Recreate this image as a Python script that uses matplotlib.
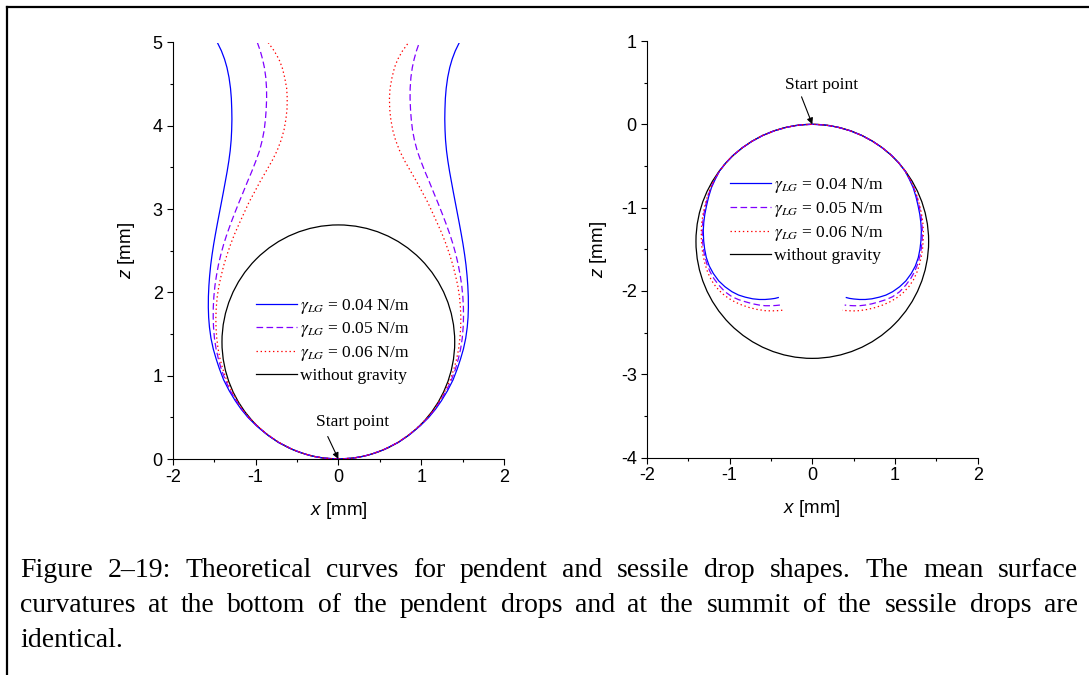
import numpy as np
import matplotlib
matplotlib.use('Agg')
import matplotlib.pyplot as plt
from matplotlib.patches import Circle
from matplotlib.lines import Line2D
from matplotlib.ticker import MultipleLocator

# ---------------- data ----------------
series_labels = ['0.04', '0.05', '0.06']

# pendent drops: half profile (right branch), x [mm] at each height z [mm]
pend_z = [0.00, 0.01, 0.03, 0.06, 0.11, 0.20, 0.30, 0.40, 0.50, 0.60, 0.70, 0.82, 0.95, 1.08,
          1.20, 1.32, 1.45, 1.58, 1.70, 1.82, 1.95, 2.08, 2.20, 2.33, 2.45, 2.58, 2.70, 2.83,
          2.95, 3.08, 3.20, 3.33, 3.45, 3.58, 3.70, 3.83, 3.95, 4.08, 4.20, 4.33, 4.45, 4.58,
          4.70, 4.80, 4.90, 5.00]
pend_x_004 = [0.000, 0.168, 0.290, 0.405, 0.545, 0.725, 0.870, 0.990, 1.092, 1.175, 1.245, 1.318,
              1.385, 1.435, 1.475, 1.510, 1.538, 1.556, 1.566, 1.570, 1.569, 1.563, 1.554, 1.541,
              1.525, 1.505, 1.484, 1.460, 1.437, 1.412, 1.389, 1.365, 1.343, 1.322, 1.306, 1.294,
              1.288, 1.285, 1.287, 1.292, 1.302, 1.320, 1.345, 1.374, 1.412, 1.461]
pend_x_005 = [0.000, 0.168, 0.290, 0.404, 0.543, 0.722, 0.866, 0.985, 1.086, 1.167, 1.232, 1.305,
              1.366, 1.414, 1.448, 1.476, 1.496, 1.507, 1.511, 1.510, 1.503, 1.490, 1.472, 1.448,
              1.420, 1.384, 1.345, 1.298, 1.252, 1.200, 1.150, 1.097, 1.046, 0.995, 0.952, 0.918,
              0.895, 0.880, 0.871, 0.866, 0.867, 0.876, 0.893, 0.915, 0.943, 0.978]
pend_x_006 = [0.000, 0.168, 0.290, 0.403, 0.542, 0.720, 0.864, 0.981, 1.080, 1.160, 1.222, 1.290,
              1.350, 1.395, 1.428, 1.452, 1.468, 1.477, 1.479, 1.474, 1.462, 1.442, 1.415, 1.382,
              1.345, 1.300, 1.253, 1.195, 1.140, 1.080, 1.015, 0.945, 0.875, 0.800, 0.740, 0.690,
              0.656, 0.633, 0.620, 0.617, 0.624, 0.648, 0.678, 0.718, 0.775, 0.848]

# sessile drops: half profile (right branch) from the summit
sess_x_004 = [0, 0.15, 0.30, 0.45, 0.60, 0.73, 0.85, 0.96, 1.05, 1.12, 1.172, 1.218, 1.252, 1.278,
              1.298, 1.311, 1.317, 1.312, 1.300, 1.280, 1.245, 1.196, 1.130, 1.055, 0.970, 0.890,
              0.810, 0.720, 0.640, 0.570, 0.500, 0.450, 0.411]
sess_z_004 = [0, -0.008, -0.033, -0.075, -0.135, -0.205, -0.285, -0.375, -0.47, -0.56, -0.66, -0.76,
              -0.87, -0.98, -1.08, -1.18, -1.28, -1.40, -1.50, -1.60, -1.70, -1.79, -1.88, -1.95,
              -2.01, -2.05, -2.075, -2.095, -2.103, -2.103, -2.097, -2.09, -2.08]
sess_x_005 = [0, 0.15, 0.30, 0.45, 0.60, 0.73, 0.85, 0.96, 1.05, 1.12, 1.178, 1.225, 1.262, 1.290,
              1.310, 1.323, 1.329, 1.327, 1.318, 1.300, 1.272, 1.235, 1.190, 1.130, 1.055, 0.970,
              0.890, 0.810, 0.720, 0.640, 0.570, 0.500, 0.440, 0.391]
sess_z_005 = [0, -0.008, -0.033, -0.075, -0.135, -0.205, -0.285, -0.375, -0.47, -0.56, -0.66, -0.76,
              -0.87, -0.98, -1.08, -1.18, -1.28, -1.38, -1.48, -1.58, -1.68, -1.77, -1.85, -1.93,
              -2.01, -2.07, -2.105, -2.13, -2.155, -2.17, -2.178, -2.178, -2.175, -2.17]
sess_x_006 = [0, 0.15, 0.30, 0.45, 0.60, 0.73, 0.85, 0.96, 1.05, 1.12, 1.180, 1.228, 1.268, 1.298,
              1.320, 1.335, 1.341, 1.340, 1.333, 1.318, 1.295, 1.262, 1.220, 1.165, 1.090, 1.010,
              0.930, 0.850, 0.760, 0.670, 0.570, 0.500, 0.430, 0.362]
sess_z_006 = [0, -0.008, -0.033, -0.075, -0.135, -0.205, -0.285, -0.375, -0.47, -0.56, -0.66, -0.76,
              -0.87, -0.98, -1.08, -1.18, -1.28, -1.38, -1.48, -1.58, -1.68, -1.78, -1.87, -1.95,
              -2.03, -2.09, -2.135, -2.17, -2.20, -2.222, -2.237, -2.24, -2.238, -2.232]

# drops without gravity: spheres
circle_radius = 1.405
pend_circle_center_z = 1.405
sess_circle_center_z = -1.405

caption_lines = [
    "Figure 2\u201319: Theoretical curves for pendent and sessile drop shapes. The mean surface",
    "curvatures at the bottom of the pendent drops and at the summit of the sessile drops are",
    "identical.",
]

# ---------------- style ----------------
plt.rcParams['font.family'] = ['Liberation Sans', 'DejaVu Sans']
plt.rcParams['mathtext.fontset'] = 'custom'
plt.rcParams['mathtext.it'] = 'Liberation Sans:italic'
plt.rcParams['mathtext.rm'] = 'Liberation Sans'
plt.rcParams['axes.unicode_minus'] = False

colors = ['#0000ff', '#8000ff', '#ff0000']
lstyles = ['-', (0, (5.3, 2.7)), (0, (1.1, 2.2))]
LW = 0.9
SERIF = 'Liberation Serif'
FS_TICK = 13
FS_LAB = 13.5
FS_LEG = 12.5

W, H = 1089, 675
fig = plt.figure(figsize=(W / 100, H / 100), dpi=100)


def fx(px):
    return px / W


def fy(py):
    return 1 - py / H


axL = fig.add_axes([fx(172.7), fy(459), fx(504) - fx(172.7), fy(42.5) - fy(459)])
axR = fig.add_axes([fx(646.7), fy(457.5), fx(977.9) - fx(646.7), fy(41) - fy(457.5)])


def mirror(x, z):
    x = np.asarray(x, float)
    z = np.asarray(z, float)
    return np.concatenate([-x[::-1], x[1:]]), np.concatenate([z[::-1], z[1:]])


# pendent
for xs, c, ls in zip([pend_x_004, pend_x_005, pend_x_006], colors, lstyles):
    X, Z = mirror(xs, pend_z)
    axL.plot(X, Z, color=c, ls=ls, lw=LW)
axL.add_patch(Circle((0, pend_circle_center_z), circle_radius, fill=False, ec='k', lw=LW))

# sessile
for xs, zs, c, ls in zip([sess_x_004, sess_x_005, sess_x_006],
                         [sess_z_004, sess_z_005, sess_z_006], colors, lstyles):
    X, Z = mirror(xs, zs)
    axR.plot(X, Z, color=c, ls=ls, lw=LW)
axR.add_patch(Circle((0, sess_circle_center_z), circle_radius, fill=False, ec='k', lw=LW))

for ax, ylim, yt in [(axL, (0, 5), range(0, 6)), (axR, (-4, 1), range(-4, 2))]:
    ax.set_xlim(-2, 2)
    ax.set_ylim(*ylim)
    ax.set_xticks(range(-2, 3))
    ax.set_yticks(list(yt))
    ax.xaxis.set_minor_locator(MultipleLocator(0.5))
    ax.yaxis.set_minor_locator(MultipleLocator(0.5))
    for s in ['top', 'right']:
        ax.spines[s].set_visible(False)
    for s in ['left', 'bottom']:
        ax.spines[s].set_linewidth(0.8)
    ax.tick_params(which='major', direction='out', length=4, width=0.8, pad=3.2, labelsize=FS_TICK)
    ax.tick_params(which='minor', direction='out', length=2.4, width=0.8)
    ax.set_xlabel(r'$x$ [mm]', fontsize=FS_LAB)
    ax.set_ylabel(r'$z$ [mm]', fontsize=FS_LAB)
    ax.xaxis.set_label_coords(0.5, -0.098)
    ax.patch.set_alpha(0)

axL.yaxis.set_label_coords(-0.108, 0.5)
axR.yaxis.set_label_coords(-0.114, 0.5)

# legends
handles = [Line2D([], [], color=c, ls=ls, lw=LW) for c, ls in zip(colors, lstyles)]
handles.append(Line2D([], [], color='k', lw=LW))
labels = [r'$\gamma_{LG}$ = ' + s + ' N/m' for s in series_labels] + ['without gravity']
for ax, anchor in [(axL, (0.251, 0.2845)), (axR, (0.2515, 0.570))]:
    leg = ax.legend(handles, labels, loc='center left', bbox_to_anchor=anchor, frameon=False,
                    borderpad=0, borderaxespad=0, handlelength=2.35, handletextpad=0.2,
                    labelspacing=0.28, prop={'family': SERIF, 'size': FS_LEG})
    for t in leg.get_texts():
        t.set_math_fontfamily('stix')

# start point annotations
for ax, txy, tail in [(axL, (0.17, 0.448), (-0.128, 0.27)), (axR, (0.117, 0.47), (-0.13, 0.33))]:
    ax.text(txy[0], txy[1], 'Start point', ha='center', va='center', family=SERIF, fontsize=FS_LEG)
    ax.annotate('', xy=(0, 0), xytext=tail,
                arrowprops=dict(arrowstyle='-|>', color='k', lw=0.8, mutation_scale=9,
                                shrinkA=0, shrinkB=0))

# figure frame (top and left border)
fig.add_artist(Line2D([fx(7), fx(7)], [0, fy(7)], transform=fig.transFigure, color='k', lw=1.6))
fig.add_artist(Line2D([fx(7), 1], [fy(7), fy(7)], transform=fig.transFigure, color='k', lw=1.6))

# caption with justified lines
CFS = 20
renderer = fig.canvas.get_renderer()
x0, x1 = 20, 1078
baselines = [577, 612, 647]
for i, line in enumerate(caption_lines):
    if i < len(caption_lines) - 1:
        words = line.split(' ')
        texts = [fig.text(0, fy(baselines[i]), w, fontsize=CFS, family=SERIF, va='baseline', ha='left')
                 for w in words]
        widths = [t.get_window_extent(renderer).width for t in texts]
        gap = (x1 - x0 - sum(widths)) / (len(words) - 1)
        x = x0
        for t, w in zip(texts, widths):
            t.set_x(fx(x))
            x += w + gap
    else:
        fig.text(fx(x0), fy(baselines[i]), line, fontsize=CFS, family=SERIF, va='baseline', ha='left')

fig.savefig('out.png', dpi=100)
